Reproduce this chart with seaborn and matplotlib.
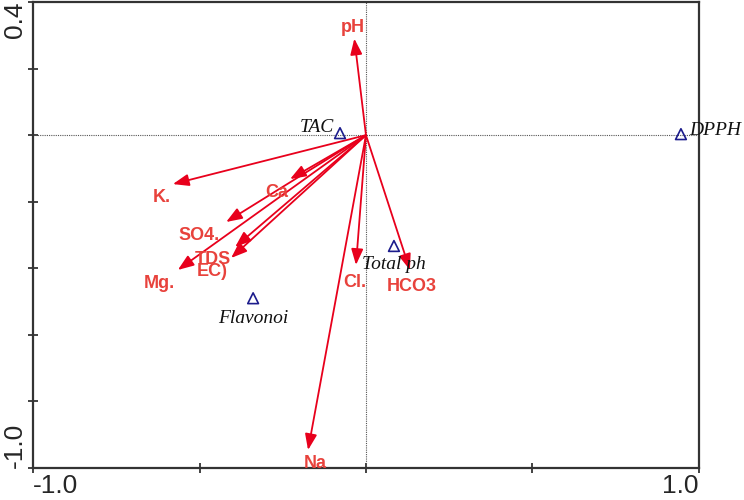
import pandas as pd
import matplotlib.pyplot as plt
import seaborn as sns

# environmental variables (arrow tips) and label spots
env_names = ['pH', 'K.', 'Ca', 'SO4.', 'TDS', 'EC)', 'Mg.', 'Cl.', 'HCO3', 'Na']
env_x = [-0.035, -0.58, -0.228, -0.42, -0.393, -0.405, -0.565, -0.03, 0.132, -0.174]
env_y = [0.29, -0.147, -0.132, -0.261, -0.336, -0.369, -0.405, -0.39, -0.405, -0.946]
lab_x = [-0.039, -0.613, -0.267, -0.50, -0.46, -0.462, -0.62, -0.033, 0.138, -0.153]
lab_y = [0.324, -0.186, -0.171, -0.30, -0.375, -0.41, -0.447, -0.444, -0.456, -0.985]

# response variables (triangles)
sp_names = ['TAC', 'DPPH', 'Total ph', 'Flavonoi']
sp_x = [-0.078, 0.946, 0.084, -0.339]
sp_y = [0.006, 0.003, -0.333, -0.49]

sns.set_theme(style='white')
plt.rcParams['font.family'] = ['Liberation Sans', 'DejaVu Sans']

fig = plt.figure(figsize=(7.44, 5.0), dpi=100)
ax = fig.add_axes([0.0444, 0.064, 0.895, 0.932])

ax.axhline(0, color='#555555', lw=0.8, ls=(0, (1, 1)), zorder=1)
ax.axvline(0, color='#555555', lw=0.8, ls=(0, (1, 1)), zorder=1)

arrow_col = '#e8001c'
text_col = '#e8423c'
for name, x, y, lx, ly in zip(env_names, env_x, env_y, lab_x, lab_y):
    ax.annotate('', xy=(x, y), xytext=(0, 0),
                arrowprops=dict(arrowstyle='-|>,head_length=0.8,head_width=0.3',
                                color=arrow_col, lw=1.3, shrinkA=0, shrinkB=0),
                zorder=3)
    ax.text(lx, ly, name, color=text_col, fontsize=13, fontweight='bold',
            ha='center', va='center', zorder=4)

df = pd.DataFrame({'x': sp_x, 'y': sp_y, 'name': sp_names})
sns.scatterplot(data=df, x='x', y='y', ax=ax, marker='^', s=60,
                facecolor='none', edgecolor='#1c1c8c', linewidth=1.2, zorder=5)

serif = dict(family=['Liberation Serif', 'DejaVu Serif'], style='italic',
             fontsize=14, color='#111111')
ax.text(sp_x[0] - 0.018, sp_y[0] + 0.018, sp_names[0], ha='right', va='center', **serif)
ax.text(sp_x[1] + 0.025, sp_y[1] + 0.012, sp_names[1], ha='left', va='center', **serif)
ax.text(sp_x[2], sp_y[2] - 0.057, sp_names[2], ha='center', va='center', **serif)
ax.text(sp_x[3], sp_y[3] - 0.06, sp_names[3], ha='center', va='center', **serif)

ax.set_xlim(-1.0, 1.0)
ax.set_ylim(-1.0, 0.4)
ax.set_xlabel('')
ax.set_ylabel('')

ax.set_xticks([-1.0, -0.5, 0.0, 0.5, 1.0])
ax.set_xticklabels(['-1.0', '', '', '', '1.0'], fontsize=19)
xl = ax.get_xticklabels()
xl[0].set_ha('left')
xl[-1].set_ha('right')
ax.set_yticks([-1.0, -0.8, -0.6, -0.4, -0.2, 0.0, 0.2, 0.4])
ax.set_yticklabels(['-1.0', '', '', '', '', '', '', '0.4'], fontsize=19, rotation=90)
yl = ax.get_yticklabels()
yl[0].set_va('bottom')
yl[-1].set_va('top')

ax.tick_params(direction='inout', length=7, width=1.2, color='#222222',
               left=True, bottom=True, pad=1)
for s in ax.spines.values():
    s.set_color('#333333')
    s.set_linewidth(1.6)

plt.savefig('out.png', dpi=100)
